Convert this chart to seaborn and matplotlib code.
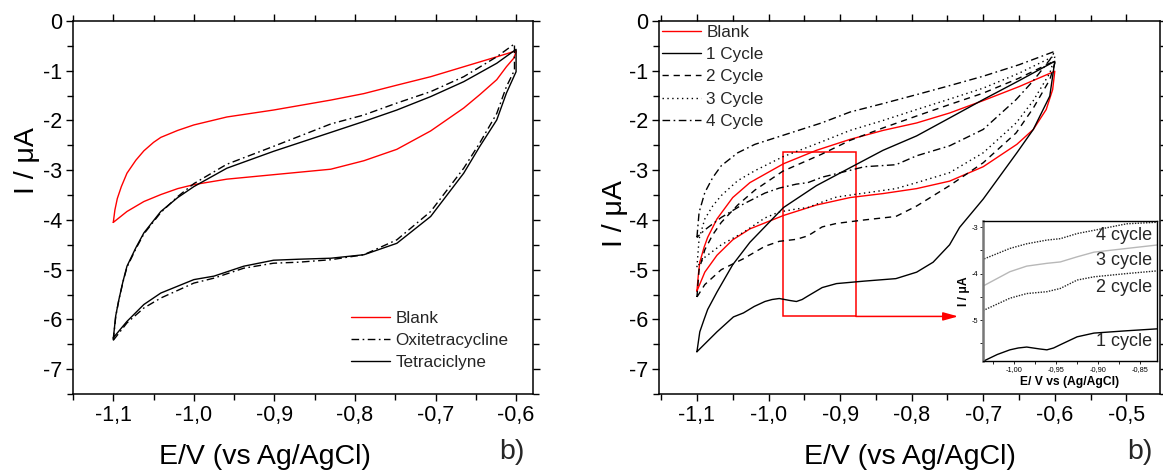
import numpy as np
import pandas as pd
import matplotlib
matplotlib.use("Agg")
import matplotlib.pyplot as plt
import seaborn as sns
from matplotlib.patches import Rectangle
from matplotlib.ticker import MultipleLocator, FixedLocator, FixedFormatter

# ---------------- DATA : left panel ----------------
a_blank_up_E = [-1.1, -1.098, -1.095, -1.09, -1.083, -1.072, -1.062, -1.05, -1.041, -1.02, -1.0, -0.959, -0.901, -0.830, -0.789, -0.748, -0.706, -0.665, -0.624, -0.6]
a_blank_up_I = [-4.05, -3.80, -3.57, -3.33, -3.06, -2.80, -2.61, -2.44, -2.34, -2.20, -2.09, -1.93, -1.79, -1.59, -1.46, -1.29, -1.12, -0.92, -0.72, -0.60]
a_blank_lo_E = [-0.6, -0.603, -0.612, -0.624, -0.645, -0.665, -0.706, -0.748, -0.789, -0.830, -0.901, -0.959, -1.0, -1.02, -1.041, -1.062, -1.083, -1.1]
a_blank_lo_I = [-0.62, -0.75, -0.92, -1.18, -1.48, -1.75, -2.21, -2.58, -2.81, -2.98, -3.09, -3.18, -3.29, -3.37, -3.49, -3.63, -3.83, -4.05]

a_oxi_up_E = [-1.1, -1.097, -1.093, -1.088, -1.083, -1.072, -1.062, -1.041, -1.02, -1.0, -0.959, -0.901, -0.830, -0.789, -0.748, -0.706, -0.665, -0.624, -0.602]
a_oxi_up_I = [-6.42, -5.95, -5.60, -5.25, -4.95, -4.58, -4.28, -3.85, -3.53, -3.27, -2.88, -2.52, -2.07, -1.89, -1.65, -1.42, -1.12, -0.72, -0.46]
a_oxi_lo_E = [-0.602, -0.612, -0.624, -0.645, -0.665, -0.706, -0.748, -0.789, -0.830, -0.870, -0.901, -0.938, -0.975, -1.0, -1.041, -1.062, -1.083, -1.1]
a_oxi_lo_I = [-0.99, -1.32, -1.86, -2.45, -2.96, -3.83, -4.40, -4.70, -4.80, -4.85, -4.87, -4.97, -5.17, -5.27, -5.57, -5.77, -6.07, -6.42]

a_tet_up_E = [-1.1, -1.097, -1.093, -1.088, -1.083, -1.072, -1.062, -1.041, -1.02, -1.0, -0.959, -0.901, -0.830, -0.789, -0.748, -0.706, -0.665, -0.624, -0.6]
a_tet_up_I = [-6.39, -5.93, -5.60, -5.24, -4.93, -4.56, -4.26, -3.83, -3.55, -3.33, -2.96, -2.62, -2.24, -2.02, -1.79, -1.52, -1.22, -0.85, -0.57]
a_tet_lo_E = [-0.6, -0.612, -0.624, -0.645, -0.665, -0.706, -0.748, -0.789, -0.830, -0.870, -0.901, -0.938, -0.975, -1.0, -1.041, -1.062, -1.083, -1.1]
a_tet_lo_I = [-1.02, -1.45, -1.99, -2.52, -3.06, -3.93, -4.47, -4.70, -4.77, -4.79, -4.81, -4.93, -5.13, -5.20, -5.47, -5.70, -6.04, -6.37]

# ---------------- DATA : right panel ----------------
b_blank_up_E = [-1.1, -1.098, -1.096, -1.09, -1.085, -1.072, -1.05, -1.026, -0.979, -0.933, -0.886, -0.84, -0.793, -0.747, -0.70, -0.65, -0.60]
b_blank_up_I = [-5.43, -5.10, -4.85, -4.55, -4.35, -3.98, -3.55, -3.25, -2.87, -2.60, -2.38, -2.20, -2.05, -1.85, -1.60, -1.32, -1.01]
b_blank_lo_E = [-0.60, -0.603, -0.612, -0.630, -0.653, -0.70, -0.747, -0.793, -0.84, -0.886, -0.933, -0.979, -1.026, -1.05, -1.072, -1.089, -1.1]
b_blank_lo_I = [-1.01, -1.38, -1.78, -2.18, -2.48, -2.93, -3.22, -3.37, -3.47, -3.55, -3.70, -3.91, -4.18, -4.40, -4.71, -5.05, -5.43]

b_c1_up_E = [-1.1, -1.098, -1.096, -1.09, -1.085, -1.072, -1.05, -1.026, -0.979, -0.933, -0.886, -0.84, -0.793, -0.747, -0.70, -0.65, -0.60]
b_c1_up_I = [-6.65, -6.45, -6.25, -6.00, -5.80, -5.45, -4.90, -4.45, -3.75, -3.31, -2.95, -2.60, -2.31, -1.95, -1.58, -1.20, -0.81]
b_c1_lo_E = [-0.600, -0.607, -0.630, -0.653, -0.700, -0.733, -0.747, -0.770, -0.793, -0.822, -0.866, -0.905, -0.925, -0.945, -0.953, -0.961, -0.970, -0.985, -0.995, -1.005, -1.020, -1.035, -1.049, -1.072, -1.100]
b_c1_lo_I = [-0.81, -1.51, -2.18, -2.65, -3.58, -4.15, -4.50, -4.85, -5.05, -5.18, -5.23, -5.28, -5.36, -5.53, -5.60, -5.64, -5.62, -5.58, -5.60, -5.64, -5.74, -5.87, -5.95, -6.25, -6.65]

b_up_E = [-1.1, -1.097, -1.089, -1.078, -1.066, -1.043, -1.019, -0.98, -0.926, -0.886, -0.84, -0.793, -0.747, -0.70, -0.65, -0.60]
b_c2_up_I = [-5.55, -5.00, -4.60, -4.30, -4.05, -3.70, -3.40, -3.02, -2.68, -2.40, -2.15, -1.91, -1.68, -1.45, -1.15, -0.80]
b_c3_up_I = [-4.95, -4.38, -3.98, -3.72, -3.51, -3.21, -3.01, -2.73, -2.43, -2.20, -2.00, -1.78, -1.57, -1.35, -1.05, -0.70]
b_c4_up_I = [-4.35, -3.85, -3.45, -3.15, -2.91, -2.65, -2.48, -2.30, -2.05, -1.83, -1.66, -1.48, -1.30, -1.11, -0.88, -0.61]

b_lo_E = [-0.600, -0.607, -0.630, -0.654, -0.700, -0.747, -0.793, -0.822, -0.866, -0.905, -0.925, -0.945, -0.961, -0.985, -1.005, -1.035, -1.066, -1.089, -1.1]
b_c2_lo_I = [-0.85, -1.18, -1.75, -2.25, -2.85, -3.31, -3.72, -3.93, -4.00, -4.07, -4.14, -4.32, -4.39, -4.43, -4.53, -4.78, -5.00, -5.30, -5.55]
b_c3_lo_I = [-0.72, -1.05, -1.60, -2.05, -2.65, -3.05, -3.25, -3.37, -3.46, -3.54, -3.64, -3.75, -3.78, -3.84, -3.96, -4.25, -4.50, -4.75, -4.95]
b_c4_lo_I = [-0.61, -0.78, -1.20, -1.58, -2.18, -2.51, -2.71, -2.89, -2.93, -3.07, -3.14, -3.25, -3.28, -3.36, -3.46, -3.68, -3.95, -4.20, -4.35]

# ---------------- ticks / labels ----------------
left_xticks = [-1.1, -1.0, -0.9, -0.8, -0.7, -0.6]
left_xticklabels = ["-1,1", "-1,0", "-0,9", "-0,8", "-0,7", "-0,6"]
right_xticks = [-1.1, -1.0, -0.9, -0.8, -0.7, -0.6, -0.5]
right_xticklabels = ["-1,1", "-1,0", "-0,9", "-0,8", "-0,7", "-0,6", "-0,5"]
yticks = [0, -1, -2, -3, -4, -5, -6, -7]
yticklabels = ["0", "-1", "-2", "-3", "-4", "-5", "-6", "-7"]
inset_xticks = [-1.0, -0.95, -0.9, -0.85]
inset_xticklabels = ["-1,00", "-0,95", "-0,90", "-0,85"]
inset_yticks = [-3, -4, -5]
inset_yticklabels = ["-3", "-4", "-5"]

left_labels = ["Blank", "Oxitetracycline", "Tetraciclyne"]
right_labels = ["Blank", "1 Cycle", "2 Cycle", "3 Cycle", "4 Cycle"]
inset_labels = ["4 cycle", "3 cycle", "2 cycle", "1 cycle"]

# zoom window marked in the right panel
zoom_E = (-0.98, -0.878)
zoom_I = (-5.94, -2.64)
arrow_E_end = -0.735

# ---------------- style ----------------
sns.set_style("ticks")
plt.rcParams["font.family"] = ["Liberation Sans", "DejaVu Sans"]
plt.rcParams["axes.linewidth"] = 1.1

RED = "#ff0000"
DASHDOT = (0, (5.5, 2.5, 1.2, 2.5))
DASHED = (0, (4.5, 3.5))
DOTTED = (0, (1, 2.5))
FINE_DOT = (0, (1, 1))

fig = plt.figure(figsize=(11.63, 4.70), dpi=100)
axL = fig.add_axes([73 / 1163, 1 - 394 / 470, 460 / 1163, 373 / 470])
axR = fig.add_axes([659 / 1163, 1 - 394 / 470, 501 / 1163, 373 / 470])


def loop(ax, E1, I1, E2, I2, color, ls, lw=1.0):
    df = pd.DataFrame({"E": list(E1) + list(E2), "I": list(I1) + list(I2)})
    sns.lineplot(data=df, x="E", y="I", sort=False, estimator=None,
                 color=color, linestyle=ls, linewidth=lw, ax=ax, legend=False)
    line = ax.get_lines()[-1]
    line.set_solid_joinstyle("round")
    line.set_dash_joinstyle("round")
    return line


# ----- left panel -----
hL = [
    loop(axL, a_blank_up_E, a_blank_up_I, a_blank_lo_E, a_blank_lo_I, RED, "-"),
    loop(axL, a_oxi_up_E, a_oxi_up_I, a_oxi_lo_E, a_oxi_lo_I, "black", DASHDOT),
    loop(axL, a_tet_up_E, a_tet_up_I, a_tet_lo_E, a_tet_lo_I, "black", "-"),
]

# ----- right panel -----
hR = [
    loop(axR, b_blank_up_E, b_blank_up_I, b_blank_lo_E, b_blank_lo_I, RED, "-"),
    loop(axR, b_c1_up_E, b_c1_up_I, b_c1_lo_E, b_c1_lo_I, "black", "-"),
    loop(axR, b_up_E, b_c2_up_I, b_lo_E, b_c2_lo_I, "black", DASHED),
    loop(axR, b_up_E, b_c3_up_I, b_lo_E, b_c3_lo_I, "black", DOTTED),
    loop(axR, b_up_E, b_c4_up_I, b_lo_E, b_c4_lo_I, "black", DASHDOT),
]

for ax, xt, xtl, xlim in [(axL, left_xticks, left_xticklabels, (-1.15, -0.579)),
                          (axR, right_xticks, right_xticklabels, (-1.153, -0.453))]:
    ax.set_xlim(*xlim)
    ax.set_ylim(-7.5, 0)
    ax.xaxis.set_major_locator(FixedLocator(xt))
    ax.xaxis.set_major_formatter(FixedFormatter(xtl))
    ax.xaxis.set_minor_locator(MultipleLocator(0.05))
    ax.yaxis.set_major_locator(FixedLocator(yticks))
    ax.yaxis.set_major_formatter(FixedFormatter(yticklabels))
    ax.yaxis.set_minor_locator(MultipleLocator(0.5))
    ax.tick_params(which="both", direction="out", top=True, right=True,
                   width=1.0, color="black", labelcolor="black")
    ax.tick_params(which="major", length=5, labelsize=15.5, pad=3)
    ax.tick_params(which="minor", length=4.5)
    for s in ax.spines.values():
        s.set_visible(True)
        s.set_color("black")
        s.set_linewidth(1.1)
    ax.set_xlabel("E/V (vs Ag/AgCl)", fontsize=20.5, color="black")
    ax.set_ylabel("I / μA", fontsize=20.5, color="black")

axL.xaxis.set_label_coords(0.417, -0.135)
axR.xaxis.set_label_coords(0.5, -0.135)
axL.yaxis.set_label_coords(-0.072, 0.625)
axR.yaxis.set_label_coords(-0.062, 0.485)

fig.text(512 / 1163, 1 - 452 / 470, "b)", fontsize=20.5, ha="center", va="center")
fig.text(1140 / 1163, 1 - 452 / 470, "b)", fontsize=20.5, ha="center", va="center")

axL.legend(hL, left_labels, loc="upper left", bbox_to_anchor=(351 / 1163, 1 - 311 / 470),
           bbox_transform=fig.transFigure, frameon=False, fontsize=12.3,
           handlelength=2.3, handletextpad=0.3, labelspacing=0.4, borderpad=0, borderaxespad=0)
axR.legend(hR, right_labels, loc="upper left", bbox_to_anchor=(662 / 1163, 1 - 25 / 470),
           bbox_transform=fig.transFigure, frameon=False, fontsize=12.3,
           handlelength=2.3, handletextpad=0.3, labelspacing=0.42, borderpad=0, borderaxespad=0)

# zoom rectangle and arrow
axR.add_patch(Rectangle((zoom_E[0], zoom_I[0]), zoom_E[1] - zoom_E[0], zoom_I[1] - zoom_I[0],
                        fill=False, edgecolor=RED, linewidth=1.1))
axR.annotate("", xy=(arrow_E_end, zoom_I[0]), xytext=(zoom_E[1], zoom_I[0]),
             arrowprops=dict(arrowstyle="-|>,head_length=0.9,head_width=0.25",
                             color=RED, lw=1.1, shrinkA=0, shrinkB=0))

# ----- inset -----
axI = fig.add_axes([983 / 1163, 1 - 361 / 470, 174 / 1163, 140 / 470])
axI.set_facecolor("white")
inset_series = [
    (b_lo_E, b_c4_lo_I, "#222222", FINE_DOT),
    (b_lo_E, b_c3_lo_I, "#b8b8b8", "-"),
    (b_lo_E, b_c2_lo_I, "#222222", FINE_DOT),
    (b_c1_lo_E, b_c1_lo_I, "black", "-"),
]
for E, I, c, ls in inset_series:
    df = pd.DataFrame({"E": E, "I": I})
    sns.lineplot(data=df, x="E", y="I", sort=False, estimator=None, color=c,
                 linestyle=ls, linewidth=1.0, ax=axI, legend=False)
axI.set_xlim(-1.037, -0.83)
axI.set_ylim(-5.88, -2.87)
axI.xaxis.set_major_locator(FixedLocator(inset_xticks))
axI.xaxis.set_major_formatter(FixedFormatter(inset_xticklabels))
axI.xaxis.set_minor_locator(MultipleLocator(0.025))
axI.yaxis.set_major_locator(FixedLocator(inset_yticks))
axI.yaxis.set_major_formatter(FixedFormatter(inset_yticklabels))
axI.yaxis.set_minor_locator(MultipleLocator(0.5))
axI.tick_params(which="both", direction="out", length=2, width=0.6, labelsize=5.3, pad=1.5,
                color="black", labelcolor="black")
for s in axI.spines.values():
    s.set_visible(True)
    s.set_color("black")
    s.set_linewidth(1.0)
axI.spines["left"].set_color("#777777")
axI.spines["left"].set_linewidth(1.8)
axI.set_xlabel("E/ V vs (Ag/AgCl)", fontsize=8.7, fontweight="bold", labelpad=2, color="black")
axI.set_ylabel("I / μA", fontsize=8.7, fontweight="bold", labelpad=1, color="black")
inset_text_pos = [(-0.869, -3.18), (-0.869, -3.71), (-0.869, -4.29), (-0.869, -5.47)]
for (tx, ty), t in zip(inset_text_pos, inset_labels):
    axI.text(tx, ty, t, fontsize=13, ha="center", va="center")

fig.savefig("out.png", dpi=100)
